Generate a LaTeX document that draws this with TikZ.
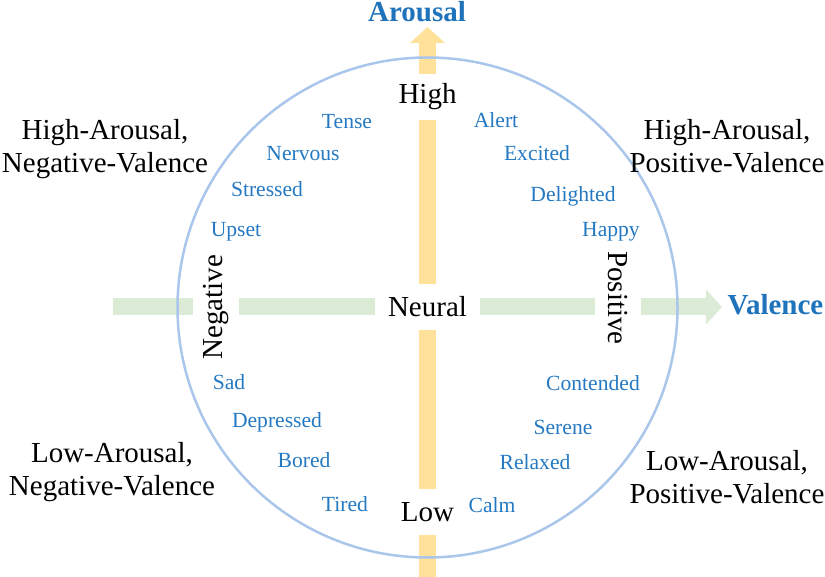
\documentclass[tikz,border=0pt]{standalone}
\usepackage{fontspec}
\setmainfont{Liberation Serif}
\usepackage{xcolor}
\usetikzlibrary{arrows.meta}
\definecolor{ringblue}{HTML}{AAC6EA}
\definecolor{baryellow}{HTML}{FFE199}
\definecolor{bargreen}{HTML}{DCEBD5}
\definecolor{wordblue}{HTML}{2479C2}
\definecolor{titleblue}{HTML}{1F73BA}

\begin{document}
\begin{tikzpicture}[
  x=0.5pt, y=-0.5pt,
  every node/.style={font=\fontsize{14.5}{16.5}\selectfont},
  axisword/.style={inner sep=0pt, minimum height=23pt},
  emotion/.style={anchor=base, text=wordblue, font=\fontsize{10.8}{13}\selectfont},
  quadrant/.style={anchor=base, align=center},
  axistitle/.style={anchor=base, text=titleblue, font=\fontsize{14.5}{16.5}\selectfont\bfseries},
  ybar/.style={draw=baryellow, line width=8.5pt},
  gbar/.style={draw=bargreen, line width=8.5pt},
  headarr/.style={-{Triangle[width=17pt, length=8pt]}},
  ring/.style={draw=ringblue, line width=1.25pt, circle, minimum size=250pt, inner sep=0pt}
]
  \useasboundingbox (0,0) rectangle (825,577);

  % Axis ends: explicit coordinates, in pixels of the original
  \coordinate (vbot)   at (427.5,577);
  \coordinate (vtop)   at (427.5,27);
  \coordinate (hleft)  at (113,307);
  \coordinate (hright) at (722,307);

  % Words that break the two axes
  \node[axisword] (high) at (427.5,97) {High};
  \node[axisword, minimum width=52.5pt] (neural) at (427.5,307) {Neural};
  \node[axisword] (low) at (427.5,512) {Low};
  \node[axisword, rotate=90]  (neg) at (216,307) {Negative};
  \node[axisword, rotate=-90] (pos) at (618,298) {Positive};

  % Arousal axis -- yellow bar, pieces between the words
  \draw[ybar] (vbot) -- (low);
  \draw[ybar] (low) -- (neural);
  \draw[ybar] (neural) -- (high);
  \draw[ybar, headarr] (high) -- (vtop);

  % Valence axis -- green bar
  \draw[gbar] (hleft) -- (hleft -| neg.north);
  \draw[gbar] (neg.south |- neural) -- (neural);
  \draw[gbar] (neural) -- (neural -| pos.south);
  \draw[gbar, headarr] (hright -| pos.north) -- (hright);

  \node[ring] (wheel) at (427.5,307.5) {};

  \node[axistitle] (arousal) at (417,22)    {Arousal};
  \node[axistitle] (valence) at (775.5,315) {Valence};

  % Quadrant names (base = baseline of the second line)
  \node[quadrant] (hineg) at (105,173) {High-Arousal,\\Negative-Valence};
  \node[quadrant] (hipos) at (727,173) {High-Arousal,\\Positive-Valence};
  \node[quadrant] (loneg) at (112,495) {Low-Arousal,\\Negative-Valence};
  \node[quadrant] (lopos) at (727,503) {Low-Arousal,\\Positive-Valence};

  % Emotion words, set on their baselines
  \node[emotion] (tense)     at (347,129) {Tense};
  \node[emotion] (nervous)   at (303,161) {Nervous};
  \node[emotion] (stressed)  at (267,197) {Stressed};
  \node[emotion] (upset)     at (236,237) {Upset};
  \node[emotion] (alert)     at (496,128) {Alert};
  \node[emotion] (excited)   at (537,161) {Excited};
  \node[emotion] (delighted) at (573,202) {Delighted};
  \node[emotion] (happy)     at (611,237) {Happy};
  \node[emotion] (sad)       at (229,389) {Sad};
  \node[emotion] (depressed) at (277,427) {Depressed};
  \node[emotion] (bored)     at (304,467) {Bored};
  \node[emotion] (tired)     at (345,511) {Tired};
  \node[emotion] (contended) at (593,391) {Contended};
  \node[emotion] (serene)    at (563,434) {Serene};
  \node[emotion] (relaxed)   at (535,469) {Relaxed};
  \node[emotion] (calm)      at (492,512) {Calm};
\end{tikzpicture}
\end{document}
